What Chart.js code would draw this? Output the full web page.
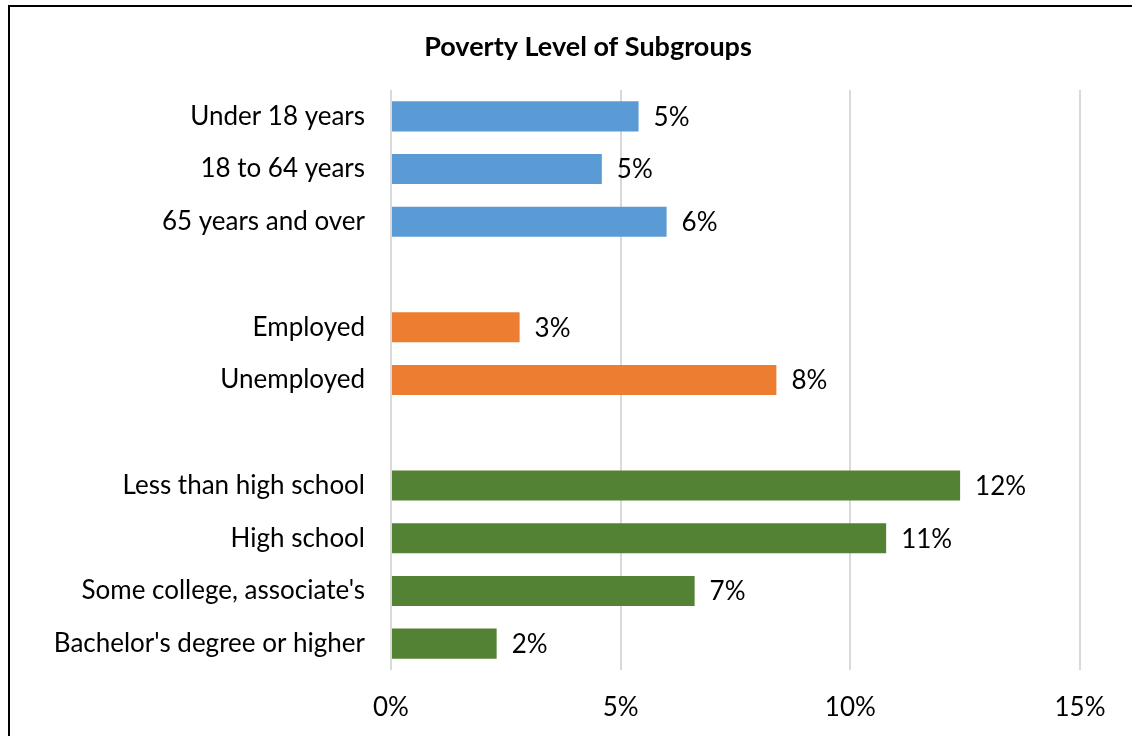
<!DOCTYPE html>
<html>
<head>
<meta charset="utf-8">
<script src="https://cdn.jsdelivr.net/npm/chart.js@4/dist/chart.umd.min.js"></script>
<style>
  html, body { margin: 0; padding: 0; background: #fff; overflow: hidden; }
  #wrap { position: absolute; left: 0; top: 0; width: 1132px; height: 736px; }
  #frame { position: absolute; left: 8px; top: 5px; width: 1200px; height: 800px; border: 2px solid #000; box-sizing: border-box; pointer-events: none; }
</style>
</head>
<body>
<div id="wrap"><canvas id="c" width="1132" height="736"></canvas></div>
<div id="frame"></div>
<script>
const categories = ["Under 18 years", "18 to 64 years", "65 years and over", "", "Employed", "Unemployed", "", "Less than high school", "High school", "Some college, associate's", "Bachelor's degree or higher"];
const values = [5.39, 4.59, 6.0, null, 2.8, 8.39, null, 12.39, 10.78, 6.61, 2.3];
const groupColors = ["#5B9BD5", "#5B9BD5", "#5B9BD5", "#ffffff", "#ED7D31", "#ED7D31", "#ffffff", "#548235", "#548235", "#548235", "#548235"];
const xTicks = [0, 5, 10, 15];
const titleText = "Poverty Level of Subgroups";

const FONT = "Lato, 'Open Sans', sans-serif";

const valueLabels = {
  id: 'valueLabels',
  afterDatasetsDraw(chart) {
    const ctx = chart.ctx;
    const meta = chart.getDatasetMeta(0);
    ctx.save();
    ctx.font = "26px " + FONT;
    ctx.fillStyle = "#000";
    ctx.textBaseline = "middle";
    ctx.textAlign = "left";
    meta.data.forEach((bar, i) => {
      const v = values[i];
      if (v === null) return;
      ctx.fillText(Math.round(v) + "%", bar.x + 15, bar.y + 1);
    });
    ctx.restore();
  }
};

const customTitle = {
  id: 'customTitle',
  afterDraw(chart) {
    const ctx = chart.ctx;
    ctx.save();
    ctx.font = "bold 27px " + FONT;
    ctx.fillStyle = "#000";
    ctx.textAlign = "center";
    ctx.textBaseline = "middle";
    ctx.fillText(titleText, 588, 47);
    ctx.restore();
  }
};

new Chart(document.getElementById('c'), {
  type: 'bar',
  data: {
    labels: categories,
    datasets: [{
      data: values,
      backgroundColor: groupColors,
      borderWidth: 0,
      barPercentage: 0.57,
      categoryPercentage: 1.0
    }]
  },
  options: {
    indexAxis: 'y',
    responsive: false,
    animation: false,
    layout: { padding: { left: 0, right: 52, top: 90, bottom: 0 } },
    plugins: { legend: { display: false }, tooltip: { enabled: false }, title: { display: false } },
    scales: {
      x: {
        min: 0, max: 15,
        afterBuildTicks(axis) { axis.ticks = xTicks.map(v => ({ value: v })); },
        ticks: { callback: v => v + "%", color: "#000", font: { family: FONT, size: 26 }, padding: 22 },
        grid: { color: "#d9d9d9", lineWidth: 2, drawTicks: false },
        border: { display: false },
        afterFit(axis) { axis.height = 66; }
      },
      y: {
        ticks: { color: "#000", font: { family: FONT, size: 26 }, padding: 26, autoSkip: false },
        grid: { display: false, drawTicks: false },
        border: { display: false },
        afterFit(axis) { axis.width = 391; }
      }
    }
  },
  plugins: [valueLabels, customTitle]
});
</script>
</body>
</html>
